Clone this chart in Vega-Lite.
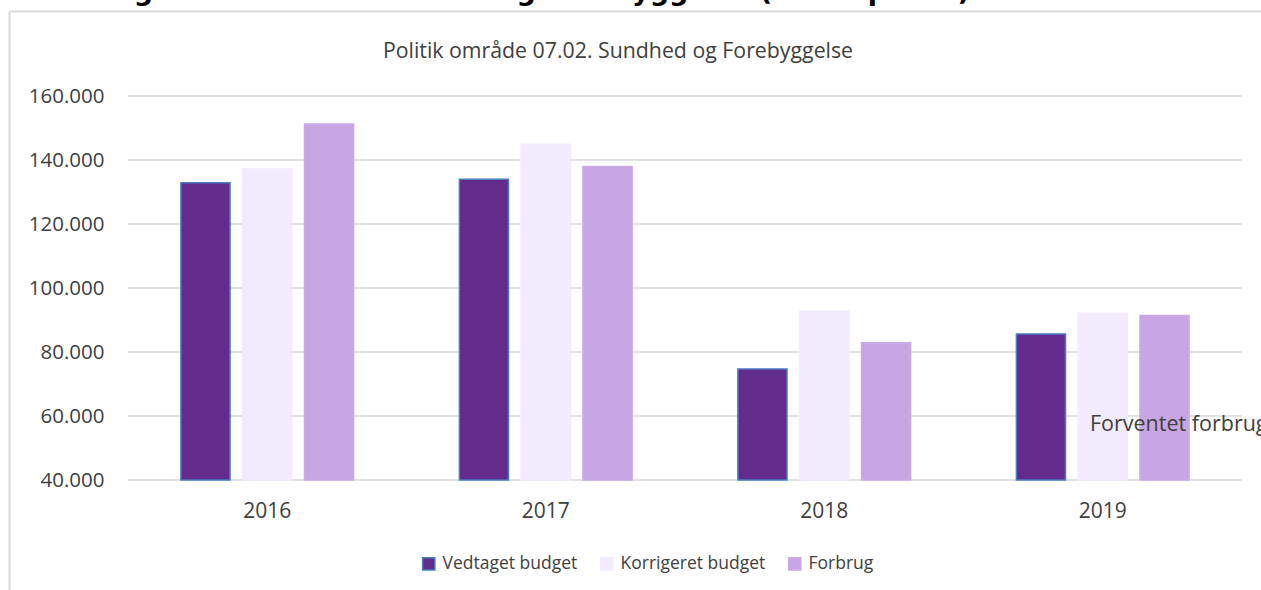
{
  "$schema": "https://vega.github.io/schema/vega-lite/v6.json",
  "width": 1252,
  "height": 579,
  "autosize": {"type": "none"},
  "padding": {"left": 9, "top": 11, "right": 0, "bottom": 0},
  "background": "white",
  "config": {"view": {"stroke": null}, "font": "Open Sans"},
  "title": {
    "text": "Udvikling 2016 – 2019 Sundhed og Forebyggelse (2019 -priser)",
    "anchor": "start",
    "frame": "group",
    "font": "DejaVu Sans",
    "fontWeight": "bold",
    "fontSize": 27,
    "color": "#000000",
    "baseline": "alphabetic",
    "offset": 0,
    "dx": 1,
    "dy": 16
  },
  "datasets": {
    "budget": [
      {"year": "2016", "series": "Vedtaget budget", "value": 132900},
      {"year": "2016", "series": "Korrigeret budget", "value": 137200},
      {"year": "2016", "series": "Forbrug", "value": 151250},
      {"year": "2017", "series": "Vedtaget budget", "value": 134000},
      {"year": "2017", "series": "Korrigeret budget", "value": 144900},
      {"year": "2017", "series": "Forbrug", "value": 138000},
      {"year": "2018", "series": "Vedtaget budget", "value": 74700},
      {"year": "2018", "series": "Korrigeret budget", "value": 92700},
      {"year": "2018", "series": "Forbrug", "value": 82900},
      {"year": "2019", "series": "Vedtaget budget", "value": 85600},
      {"year": "2019", "series": "Korrigeret budget", "value": 92100},
      {"year": "2019", "series": "Forbrug", "value": 91400}
    ],
    "grid": [
      {"v": 40000}, {"v": 60000}, {"v": 80000}, {"v": 100000},
      {"v": 120000}, {"v": 140000}, {"v": 160000}
    ],
    "note": [
      {"year": "2019", "value": 55400, "label": "Forventet forbrug"}
    ]
  },
  "layer": [
    {
      "data": {"name": "grid"},
      "mark": {"type": "rule", "color": "#D9D9D9", "strokeWidth": 1.5},
      "encoding": {
        "x": {
          "datum": "2016",
          "type": "nominal",
          "bandPosition": 0,
          "scale": {"type": "band", "domain": ["2016", "2017", "2018", "2019"], "paddingInner": 0, "paddingOuter": 0.2478, "align": 0.8623},
          "axis": {
            "orient": "top",
            "domain": true,
            "domainColor": "#D9D9D9",
            "domainWidth": 2,
            "labels": false,
            "ticks": false,
            "grid": false,
            "title": "Politik område 07.02. Sundhed og Forebyggelse",
            "titleFont": "Open Sans",
            "titleFontSize": 21.3,
            "titleFontWeight": "normal",
            "titleColor": "#404040",
            "titleX": 608.5,
            "titleY": 46,
            "titleAlign": "center",
            "titleBaseline": "alphabetic"
          }
        },
        "x2": {"datum": "2019", "bandPosition": 1},
        "y": {
          "field": "v",
          "type": "quantitative",
          "scale": {"domain": [5625, 186562.5], "nice": false, "zero": false},
          "axis": {
            "orient": "left",
            "offset": 0,
            "domain": true,
            "domainColor": "#D9D9D9",
            "domainWidth": 2,
            "labels": false,
            "ticks": false,
            "grid": false,
            "title": null
          }
        }
      }
    },
    {
      "data": {"name": "budget"},
      "mark": {"type": "bar", "strokeWidth": 1.5},
      "encoding": {
        "x": {
          "field": "year",
          "type": "nominal",
          "scale": {"type": "band", "domain": ["2016", "2017", "2018", "2019"], "paddingInner": 0, "paddingOuter": 0.2478, "align": 0.8623},
          "axis": {
            "orient": "bottom",
            "offset": -110,
            "domain": false,
            "ticks": false,
            "tickSize": 0,
            "grid": false,
            "labelPadding": 20,
            "labelAngle": 0,
            "labelFont": "Open Sans",
            "labelFontSize": 21,
            "labelColor": "#404040",
            "title": null
          }
        },
        "xOffset": {
          "field": "series",
          "type": "nominal",
          "scale": {"domain": ["Vedtaget budget", "Korrigeret budget", "Forbrug"], "paddingInner": 0.2055, "paddingOuter": 0.856}
        },
        "y": {
          "field": "value",
          "type": "quantitative",
          "scale": {"domain": [5625, 186562.5], "nice": false, "zero": false},
          "axis": {
            "orient": "left",
            "offset": -119,
            "domain": false,
            "ticks": false,
            "tickSize": 0,
            "grid": false,
            "labelPadding": 24,
            "values": [40000, 60000, 80000, 100000, 120000, 140000, 160000],
            "labelExpr": "replace(format(datum.value, ','), ',', '.')",
            "labelFont": "Open Sans",
            "labelFontSize": 20.5,
            "labelColor": "#404040",
            "title": null
          }
        },
        "y2": {"datum": 40000},
        "fill": {
          "field": "series",
          "type": "nominal",
          "scale": {"domain": ["Vedtaget budget", "Korrigeret budget", "Forbrug"], "range": ["#622B8C", "#F2EAFD", "#C8A6E3"]},
          "legend": {
            "title": null,
            "orient": "none",
            "legendX": 411,
            "legendY": 544,
            "direction": "horizontal",
            "symbolType": "square",
            "symbolSize": 150,
            "symbolStrokeWidth": 1.5,
            "labelFont": "Open Sans",
            "labelFontSize": 17.5,
            "labelColor": "#404040",
            "labelOffset": 5,
            "columnPadding": 19,
            "padding": 0
          }
        },
        "stroke": {
          "field": "series",
          "type": "nominal",
          "scale": {"domain": ["Vedtaget budget", "Korrigeret budget", "Forbrug"], "range": ["#4A7BC3", "#F2EAFD", "#CBA9E6"]},
          "legend": {
            "title": null,
            "orient": "none",
            "legendX": 411,
            "legendY": 544,
            "direction": "horizontal",
            "symbolType": "square",
            "symbolSize": 150,
            "symbolStrokeWidth": 1.5,
            "labelFont": "Open Sans",
            "labelFontSize": 17.5,
            "labelColor": "#404040",
            "labelOffset": 5,
            "columnPadding": 19,
            "padding": 0
          }
        }
      }
    },
    {
      "data": {"name": "note"},
      "mark": {"type": "text", "align": "left", "baseline": "alphabetic", "font": "Open Sans", "fontSize": 21.5, "color": "#404040"},
      "encoding": {
        "x": {
          "field": "year",
          "type": "nominal",
          "bandPosition": 0.4542,
          "scale": {"type": "band", "domain": ["2016", "2017", "2018", "2019"], "paddingInner": 0, "paddingOuter": 0.2478, "align": 0.8623},
          "axis": null
        },
        "y": {
          "field": "value",
          "type": "quantitative",
          "scale": {"domain": [5625, 186562.5], "nice": false, "zero": false},
          "axis": null
        },
        "text": {"field": "label"}
      }
    }
  ],
  "resolve": {"axis": {"x": "independent", "y": "independent"}}
}
